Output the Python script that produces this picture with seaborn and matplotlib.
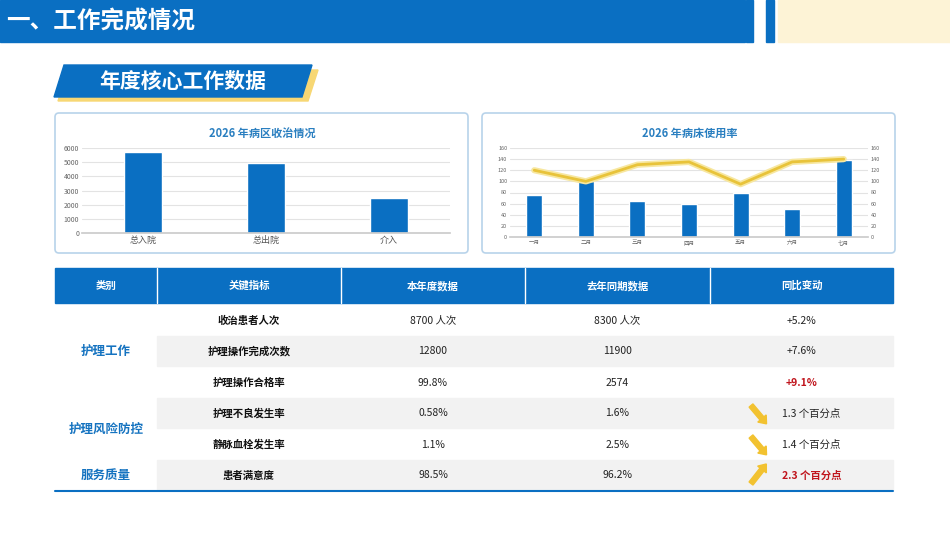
import matplotlib
matplotlib.use("Agg")
import matplotlib.pyplot as plt
import matplotlib.patches as mp
import seaborn as sns
import pandas as pd

sns.set_theme(style="white")
plt.rcParams['font.family'] = ['Noto Sans CJK SC', 'DejaVu Sans']

adm_cats = ["总入院", "总出院", "介入"]
adm_vals = [5700, 4950, 2500]
months = ["一月", "二月", "三月", "四月", "五月", "六月", "七月"]
bed_bars = [75, 100, 65, 60, 80, 50, 138]
bed_line = [120, 100, 130, 135, 95, 135, 140]
headers = ["类别", "关键指标", "本年度数据", "去年同期数据", "同比变动"]
indicators = ["收治患者人次", "护理操作完成次数", "护理操作合格率", "护理不良发生率", "静脉血栓发生率", "患者满意度"]
this_year = ["8700 人次", "12800", "99.8%", "0.58%", "1.1%", "98.5%"]
last_year = ["8300 人次", "11900", "2574", "1.6%", "2.5%", "96.2%"]
changes = ["+5.2%", "+7.6%", "+9.1%", "1.3 个百分点", "1.4 个百分点", "2.3 个百分点"]
groups = [("护理工作", 0, 3), ("护理风险防控", 3, 5), ("服务质量", 5, 6)]

W, H = 950, 535
BLUE = "#0a6fc2"
fig = plt.figure(figsize=(9.5, 5.35), dpi=100)
bg = fig.add_axes([0, 0, 1, 1])
bg.set_xlim(0, W); bg.set_ylim(H, 0); bg.axis("off")

def rect(x, y, w, h, **kw):
    bg.add_patch(mp.Rectangle((x, y), w, h, **kw))

# header
rect(0, 0, 745, 42, color=BLUE)
rect(746, 0, 7, 42, color=BLUE)
rect(766, 0, 8, 42, color=BLUE)
rect(778, 0, 172, 42, color="#fdf3d6")
bg.text(6, 22, "一、工作完成情况", color="white", fontsize=17, fontweight="bold", va="center")
# subtitle banner
bg.add_patch(mp.Polygon([(68, 70), (318, 70), (308, 101), (58, 101)], color="#f7d774"))
bg.add_patch(mp.Polygon([(64, 65), (312, 65), (302, 97), (54, 97)], color=BLUE))
bg.text(183, 81, "年度核心工作数据", color="white", fontsize=15, fontweight="bold", va="center", ha="center")

# chart panels
for x0 in (55, 482):
    bg.add_patch(mp.FancyBboxPatch((x0, 113), 413, 140, boxstyle="round,pad=0,rounding_size=4",
                                   fc="white", ec="#b8d3ea", lw=1.2))

def pax(x, y, w, h):
    return fig.add_axes([x / W, 1 - (y + h) / H, w / W, h / H])

ax1 = pax(82, 148, 368, 85)
df1 = pd.DataFrame({"c": adm_cats, "v": adm_vals})
sns.barplot(data=df1, x="c", y="v", ax=ax1, color=BLUE, width=0.31, saturation=1)
ax1.set_ylim(0, 6000); ax1.set_yticks(range(0, 6001, 1000))
ax1.set_xlabel(""); ax1.set_ylabel("")
bg.text(262, 133, "2026 年病区收治情况", color="#2a7fc0", fontsize=8, fontweight="bold", ha="center", va="center")

ax2 = pax(510, 148, 358, 89)
df2 = pd.DataFrame({"m": months, "b": bed_bars, "l": bed_line})
sns.barplot(data=df2, x="m", y="b", ax=ax2, color=BLUE, width=0.31, saturation=1)
ax2.set_ylim(0, 160); ax2.set_yticks(range(0, 161, 20))
ax2.set_xlabel(""); ax2.set_ylabel("")
ax3 = ax2.twinx()
sns.lineplot(x=list(range(len(months))), y=bed_line, ax=ax3, color="#f7e7a0", lw=4.5)
sns.lineplot(x=list(range(len(months))), y=bed_line, ax=ax3, color="#e8c33a", lw=2)
ax3.set_ylim(0, 160); ax3.set_yticks(range(0, 161, 20))
bg.text(690, 133, "2026 年病床使用率", color="#2a7fc0", fontsize=8, fontweight="bold", ha="center", va="center")

for a, fs in ((ax1, 5), (ax2, 4), (ax3, 4)):
    a.set_facecolor("none")
    a.grid(axis="y", color="#e3e3e3", lw=0.8)
    a.set_axisbelow(True)
    for s in a.spines.values():
        s.set_visible(False)
    a.spines["bottom"].set_visible(a is not ax3)
    a.spines["bottom"].set_color("#cccccc")
    a.tick_params(axis="both", length=0, labelsize=fs, colors="#666666", pad=2)
ax1.tick_params(axis="x", labelsize=6.5, colors="#555555")
ax3.grid(False)

# table
cols = [55, 157, 341, 525, 710, 893]
rect(55, 268, 838, 35, color=BLUE)
for i, h in enumerate(headers):
    bg.text((cols[i] + cols[i + 1]) / 2, 286, h, color="white", fontsize=7.5, fontweight="bold", ha="center", va="center")
for i in range(1, 5):
    bg.plot([cols[i], cols[i]], [268, 303], color="white", lw=1)
ry = [305, 336, 367, 398, 429, 460, 491]
for r in range(6):
    yc = (ry[r] + ry[r + 1]) / 2
    if r % 2 == 1:
        rect(157, ry[r], 736, ry[r + 1] - ry[r] - 1, color="#f2f2f2")
    bg.text((cols[1] + cols[2]) / 2, yc, indicators[r], fontsize=7.5, fontweight="bold", ha="center", va="center", color="#111111")
    bg.text((cols[2] + cols[3]) / 2, yc, this_year[r], fontsize=7.5, ha="center", va="center", color="#222222")
    bg.text((cols[3] + cols[4]) / 2, yc, last_year[r], fontsize=7.5, ha="center", va="center", color="#222222")
    red = r in (2, 5)
    bg.text((cols[4] + cols[5]) / 2 + (10 if r >= 3 else 0), yc, changes[r], fontsize=7.5,
            ha="center", va="center", color="#c0141c" if red else "#222222", fontweight="bold" if red else "normal")
    if r >= 3:
        ax0 = 757
        if r == 5:
            bg.add_patch(mp.FancyArrow(ax0 - 6, yc + 8, 11, -14, width=5, head_width=11, head_length=7, color="#f2c230"))
        else:
            bg.add_patch(mp.FancyArrow(ax0 - 6, yc - 8, 11, 13, width=5, head_width=11, head_length=7, color="#f2c230"))
for name, a, b in groups:
    bg.text(106, (ry[a] + ry[b]) / 2, name, color="#1573c0", fontsize=9, fontweight="bold", ha="center", va="center")
bg.plot([55, 893], [491, 491], color=BLUE, lw=1.5)

fig.savefig("out.png", dpi=100)
